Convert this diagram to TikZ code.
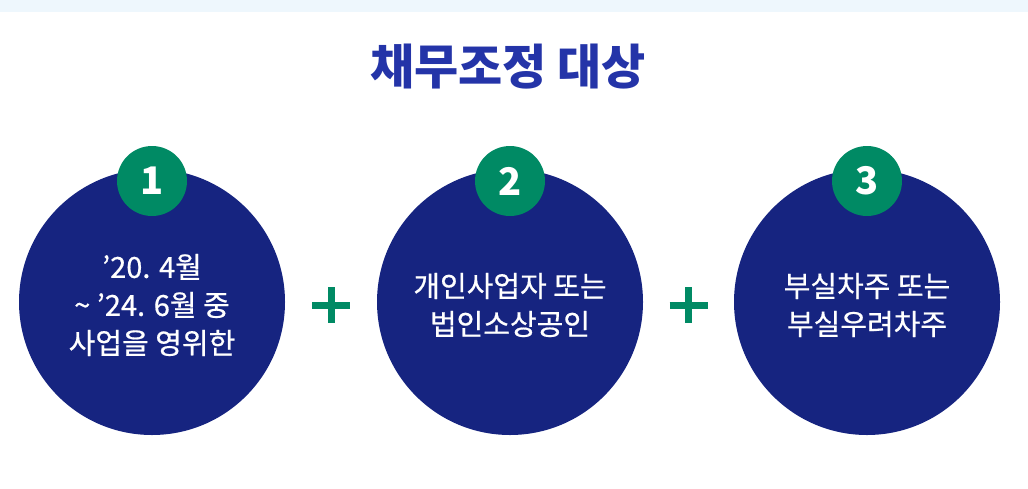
\documentclass[tikz,border=0pt]{standalone}
\usepackage{fontspec}
\setmainfont{Noto Sans CJK KR}
\newfontfamily\krbody[FakeBold=0.6]{Noto Sans CJK KR}
\usetikzlibrary{positioning,calc}
\definecolor{KNavy}{RGB}{22,36,128}
\definecolor{KGreen}{RGB}{0,138,100}
\definecolor{KTitle}{RGB}{36,52,168}
\definecolor{KSky}{RGB}{238,247,253}
\tikzset{
  bigdisc/.style={circle,fill=KNavy,minimum size=266pt,inner sep=0pt},
  badge/.style={circle,fill=KGreen,minimum size=70pt,inner sep=0pt,text=white,
    font=\fontsize{38}{38}\selectfont\bfseries},
  body/.style={text=white,align=center,font=\krbody\fontsize{29}{38}\selectfont},
  plusbar/.style={KGreen,line width=7pt}
}

\begin{document}
\begin{tikzpicture}[x=1pt,y=-1pt]
\useasboundingbox (0,0) rectangle (1028,488);
\fill[KSky] (0,0) rectangle (1028,12);
\node[font=\fontsize{48}{48}\selectfont\bfseries,text=KTitle] (title) at (508,67) {채무조정 대상};
\foreach \i/\x/\txt in {1/152/{’20. 4월\\\textasciitilde\ ’24. 6월 중\\사업을 영위한},
  2/510/{개인사업자 또는\\법인소상공인}, 3/867/{부실차주 또는\\부실우려차주}}{
  \node[bigdisc] (c\i) at (\x,302) {};
  \node[body] (t\i) at (\x,305) {\txt};
  \node[badge] (b\i) at (\x,181) {\i};
}
% plus signs between the discs
\foreach \a/\b in {1/2,2/3}{
  \coordinate (p\a) at ($(c\a)!0.5!(c\b)+(0,3)$);
  \draw[plusbar] ($(p\a)+(-19,0)$) -- ++(38,0) ($(p\a)+(0,-18)$) -- ++(0,36);
}
\end{tikzpicture}
\end{document}
